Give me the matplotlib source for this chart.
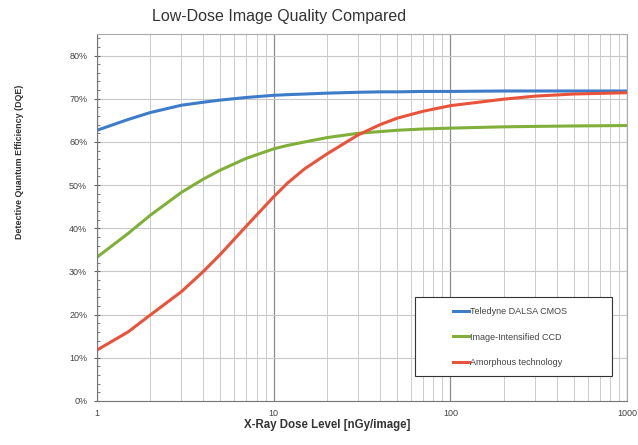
import matplotlib.pyplot as plt
from matplotlib.patches import Rectangle
from matplotlib.ticker import FixedLocator, MultipleLocator, PercentFormatter

plt.rcParams["font.family"] = ["Liberation Sans", "DejaVu Sans"]

# dose levels [nGy/image] and DQE (%)
dose = [1, 1.5, 2, 3, 4, 5, 7, 10, 12, 15, 20, 30, 40, 50, 70, 100, 200, 300, 500, 1000]
dqe_cmos = [62.7, 65.2, 66.8, 68.5, 69.2, 69.7, 70.3, 70.8, 70.95, 71.1, 71.3, 71.5,
            71.6, 71.6, 71.7, 71.7, 71.8, 71.8, 71.8, 71.8]
dqe_ccd = [33.3, 38.8, 43.0, 48.3, 51.4, 53.5, 56.2, 58.4, 59.2, 60.0, 61.0, 62.0,
           62.4, 62.7, 63.0, 63.2, 63.5, 63.6, 63.7, 63.8]
dqe_amorph = [11.8, 16.0, 19.9, 25.3, 30.0, 34.0, 40.5, 47.3, 50.5, 53.8, 57.2, 61.6,
              64.0, 65.5, 67.1, 68.4, 69.9, 70.6, 71.1, 71.4]

labels = ["Teledyne DALSA CMOS", "Image-Intensified CCD", "Amorphous technology"]
colors = ["#3d7cc9", "#80b03a", "#e9533a"]

fig = plt.figure(figsize=(6.38, 4.45), dpi=100)
ax = fig.add_axes([97 / 638, 1 - 401 / 445, 530 / 638, 367 / 445])

for y, c, lab in zip([dqe_cmos, dqe_ccd, dqe_amorph], colors, labels):
    ax.plot(dose, y, color=c, lw=2.2, label=lab, solid_joinstyle="round")

ax.set_xscale("log")
ax.set_xlim(1, 1000)
ax.set_ylim(0, 85)
ax.xaxis.set_major_locator(FixedLocator([1, 10, 100, 1000]))
ax.xaxis.set_minor_locator(FixedLocator([m * 10 ** d for d in range(3) for m in range(2, 10)]))
ax.set_xticklabels(["1", "10", "100", "1000"])
ax.xaxis.set_minor_formatter(plt.NullFormatter())
ax.yaxis.set_major_locator(FixedLocator(range(0, 81, 10)))
ax.yaxis.set_minor_locator(MultipleLocator(2))
ax.yaxis.set_major_formatter(PercentFormatter(decimals=0))

ax.grid(True, which="major", axis="x", color="#8c8c8c", lw=0.9)
ax.grid(True, which="minor", axis="x", color="#cccccc", lw=0.7)
ax.grid(True, which="major", axis="y", color="#c8c8c8", lw=0.8)
ax.set_axisbelow(True)

ax.tick_params(which="both", labelsize=6.5, colors="#666666", labelcolor="#444444")
ax.tick_params(axis="x", which="both", length=0, pad=6)
ax.tick_params(axis="y", which="major", length=4, direction="inout", pad=5)
ax.tick_params(axis="y", which="minor", length=2, direction="in")
for s in ax.spines.values():
    s.set_color("#aaaaaa")
ax.spines["left"].set_color("#777777")
ax.spines["bottom"].set_color("#777777")

fig.text(279 / 638, 1 - 17 / 445, "Low-Dose Image Quality Compared", fontsize=11.5,
         color="#333333", ha="center", va="center")
fig.text(327 / 638, 1 - 425 / 445, "X-Ray Dose Level [nGy/image]", fontsize=8.3,
         fontweight="bold", color="#333333", ha="center", va="center")
fig.text(20 / 638, 1 - 162 / 445, "Detective Quantum Efficiency (DQE)", fontsize=6.4,
         fontweight="bold", color="#333333", ha="center", va="center", rotation=90)

# legend box drawn separately so its padding matches the original
box = Rectangle((0.60, 0.068), 0.372, 0.215, transform=ax.transAxes, facecolor="white",
                edgecolor="#333333", lw=0.8, zorder=5)
ax.add_patch(box)
leg = ax.legend(loc="center left", bbox_to_anchor=(0.672, 0.174), fontsize=6.5, frameon=False,
                handlelength=1.7, labelspacing=1.8, borderpad=0, handletextpad=0.2,
                borderaxespad=0)
leg.set_zorder(6)
for t in leg.get_texts():
    t.set_color("#444444")

fig.savefig("out.png", dpi=100)
